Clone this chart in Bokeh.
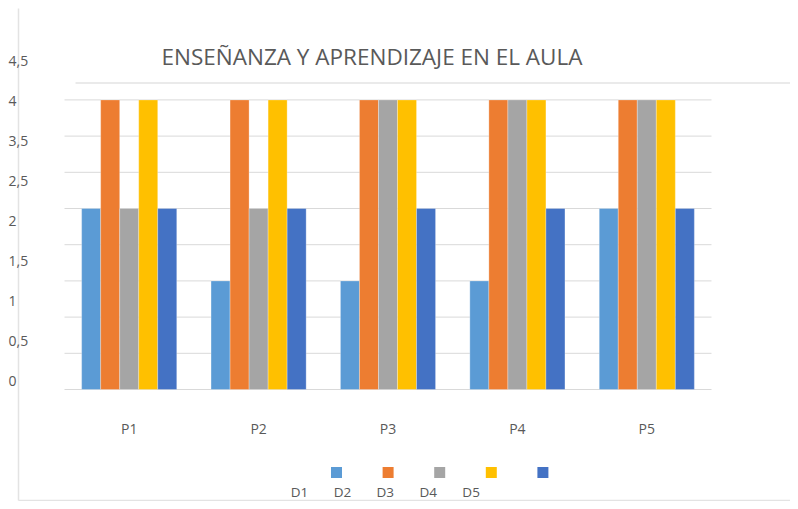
from bokeh.plotting import figure
from bokeh.models import Range1d, ColumnDataSource
from bokeh.core.properties import value
from bokeh.embed import file_html
from bokeh.resources import INLINE

# ---------------- data ----------------
categories = ["P1", "P2", "P3", "P4", "P5"]
series = ["D1", "D2", "D3", "D4", "D5"]
D1 = [2.5, 1.5, 1.5, 1.5, 2.5]
D2 = [4, 4, 4, 4, 4]
D3 = [2.5, 2.5, 4, 4, 4]
D4 = [4, 4, 4, 4, 4]
D5 = [2.5, 2.5, 2.5, 2.5, 2.5]
values = [D1, D2, D3, D4, D5]
colors = ["#5B9BD5", "#ED7D31", "#A5A5A5", "#FFC000", "#4472C4"]
grid_values = [0, 0.5, 1, 1.5, 2, 2.5, 3, 3.5, 4]
y_tick_labels = ["0", "0,5", "1", "1,5", "2", "2,5", "3,5", "4", "4,5"]
title_text = "ENSEÑANZA Y APRENDIZAJE EN EL AULA"

# ---------------- layout (picture pixels) ----------------
W, H = 790, 501
PX0, PX1, PY0, PY1 = 0, W, 0, H             # picture extents of the frame
cat_left, cat_w = 64, 129.4                 # x of P1 left edge, px per category
zero_y, unit_h = 389, 72.4                  # y of value 0, px per unit
lab0_y, lab_step = 380, 39.9                # y-label index 0 position and step
FONT = value("Open Sans")
TXT = "#595959"
GRID = "#D9D9D9"

x_range = Range1d((PX0 - cat_left) / cat_w, (PX1 - cat_left) / cat_w)
y_range = Range1d((zero_y - PY1) / unit_h, (zero_y - PY0) / unit_h)

p = figure(width=W, height=H, x_range=x_range, y_range=y_range,
           x_axis_type=None, y_axis_type=None, output_backend="svg",
           toolbar_location=None, min_border=0)
p.outline_line_color = None
p.grid.visible = False
p.background_fill_color = "white"

p.extra_x_ranges = {"page": Range1d(PX0, PX1)}
p.extra_y_ranges = {"page": Range1d(PY1, PY0),
                    "lab": Range1d((lab0_y - PY1) / lab_step, (lab0_y - PY0) / lab_step)}

# frame decoration lines
p.segment(x0=[18, 18, 75], y0=[8, 500, 82.5], x1=[18, W, W], y1=[500, 500, 82.5],
          x_range_name="page", y_range_name="page", line_color="#E3E3E3", line_width=1.5)

# gridlines
n = len(categories)
p.segment(x0=[0] * len(grid_values), x1=[n] * len(grid_values), y0=grid_values, y1=grid_values,
          line_color=GRID, line_width=1)

# bars
bar_w = 0.147
for j, (name, vals, col) in enumerate(zip(series, values, colors)):
    xs = [i + 0.5 + (j - 2) * bar_w for i in range(n)]
    src = ColumnDataSource(dict(x=xs, top=vals))
    p.vbar(x="x", top="top", bottom=0, width=bar_w, source=src,
           fill_color=col, line_color="white", line_width=0.4, line_alpha=0.7)

# category labels
p.text(x=[i + 0.5 for i in range(n)], y=[(zero_y - 428) / unit_h] * n, text=categories,
       text_font=FONT, text_font_size="14px", text_color=TXT,
       text_align="center", text_baseline="middle")

# y labels (as in the reference, offset from the grid)
p.text(x=[8] * len(y_tick_labels), y=list(range(len(y_tick_labels))), text=y_tick_labels,
       x_range_name="page", y_range_name="lab",
       text_font=FONT, text_font_size="14px", text_color=TXT,
       text_align="left", text_baseline="middle")

# legend squares and labels
sq_x = [336 + 51.6 * j for j in range(len(series))]
p.scatter(x=sq_x, y=[472] * len(series), marker="square", size=11,
          fill_color=colors, line_color=None,
          x_range_name="page", y_range_name="page")
lb_x = [299 + 42.9 * j for j in range(len(series))]
p.text(x=lb_x, y=[491.5] * len(series), text=series,
       x_range_name="page", y_range_name="page",
       text_font=FONT, text_font_size="13.5px", text_color=TXT,
       text_align="center", text_baseline="middle")

# title
p.text(x=[371.5], y=[55.5], text=[title_text], x_range_name="page", y_range_name="page",
       text_font=FONT, text_font_size="22.5px", text_color=TXT,
       text_align="center", text_baseline="middle")

open("out.html", "w").write(file_html(p, INLINE))
